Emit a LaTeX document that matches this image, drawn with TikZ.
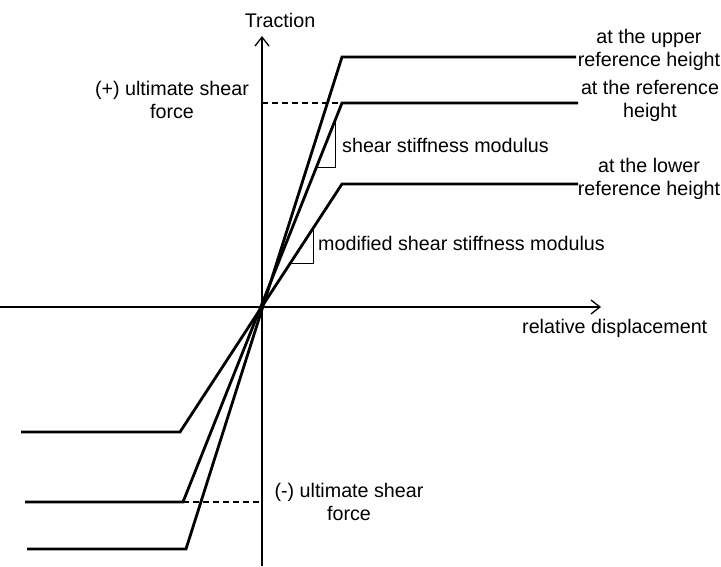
\documentclass[tikz,border=0pt]{standalone}
\usepackage{fontspec}
\setmainfont{Liberation Sans}
\usetikzlibrary{arrows.meta}
\begin{document}
\begin{tikzpicture}[x=1pt,y=-1pt,
  axis/.style={line width=1.3pt,-{Straight Barb[length=9pt,width=14pt,line width=1.3pt]}},
  curve/.style={line width=2.8pt,line join=miter},
  dashline/.style={line width=1.1pt,dash pattern=on 6pt off 4pt},
  tri/.style={line width=0.9pt},
  lbl/.style={font=\fontsize{19.7}{22.5}\selectfont,inner sep=0pt,align=center}]
\useasboundingbox (0,0) rectangle (721,566);
% coordinates
\coordinate (O) at (262,307);
\coordinate (xs) at (0,307);
\coordinate (xe) at (601,307);
\coordinate (ys) at (262,566);
\coordinate (ye) at (262,36);
\coordinate (uc) at (342,57);   \coordinate (ue) at (576,57);
\coordinate (rc) at (342,103);  \coordinate (re) at (578,103);
\coordinate (lc) at (342,184);  \coordinate (le) at (578,184);
\coordinate (luc) at (186,549); \coordinate (lue) at (27,549);
\coordinate (lrc) at (183,502); \coordinate (lre) at (25,502);
\coordinate (llc) at (180,432); \coordinate (lle) at (21,432);
\coordinate (dup) at (262,103);
\coordinate (dlo) at (262,502);
% axes
\draw[axis] (xs) -- (xe);
\draw[axis] (ys) -- (ye);
% curves
\draw[curve] (lue) -- (luc) -- (uc) -- (ue);
\draw[curve] (lre) -- (lrc) -- (rc) -- (re);
\draw[curve] (lle) -- (llc) -- (lc) -- (le);
% dashed
\draw[dashline] (dup) -- (rc);
\draw[dashline] (lrc) -- (dlo);
% slope triangles
\coordinate (t1a) at (335,119); \coordinate (t1b) at (335,167); \coordinate (t1c) at (317,167);
\draw[tri] (t1a) -- (t1b) -- (t1c);
\coordinate (t2a) at (313,228); \coordinate (t2b) at (313,263); \coordinate (t2c) at (291,263);
\draw[tri] (t2a) -- (t2b) -- (t2c);
% labels
\node[lbl] (trac) at (280,20) {Traction};
\node[lbl] (plus) at (172,100) {(+) ultimate shear\\force};
\node[lbl] (minus) at (349,502) {(-) ultimate shear\\force};
\node[lbl,anchor=base west] (ssm) at (342,152) {shear stiffness modulus};
\node[lbl,anchor=base west] (mssm) at (318,250) {modified shear stiffness modulus};
\node[lbl,anchor=base west] (rd) at (522,333) {relative displacement};
\node[lbl] (up) at (649,50) {at the upper\\reference height};
\node[lbl] (ref) at (650,101) {at the reference\\height};
\node[lbl] (low) at (649,179) {at the lower\\reference height};
\end{tikzpicture}
\end{document}
